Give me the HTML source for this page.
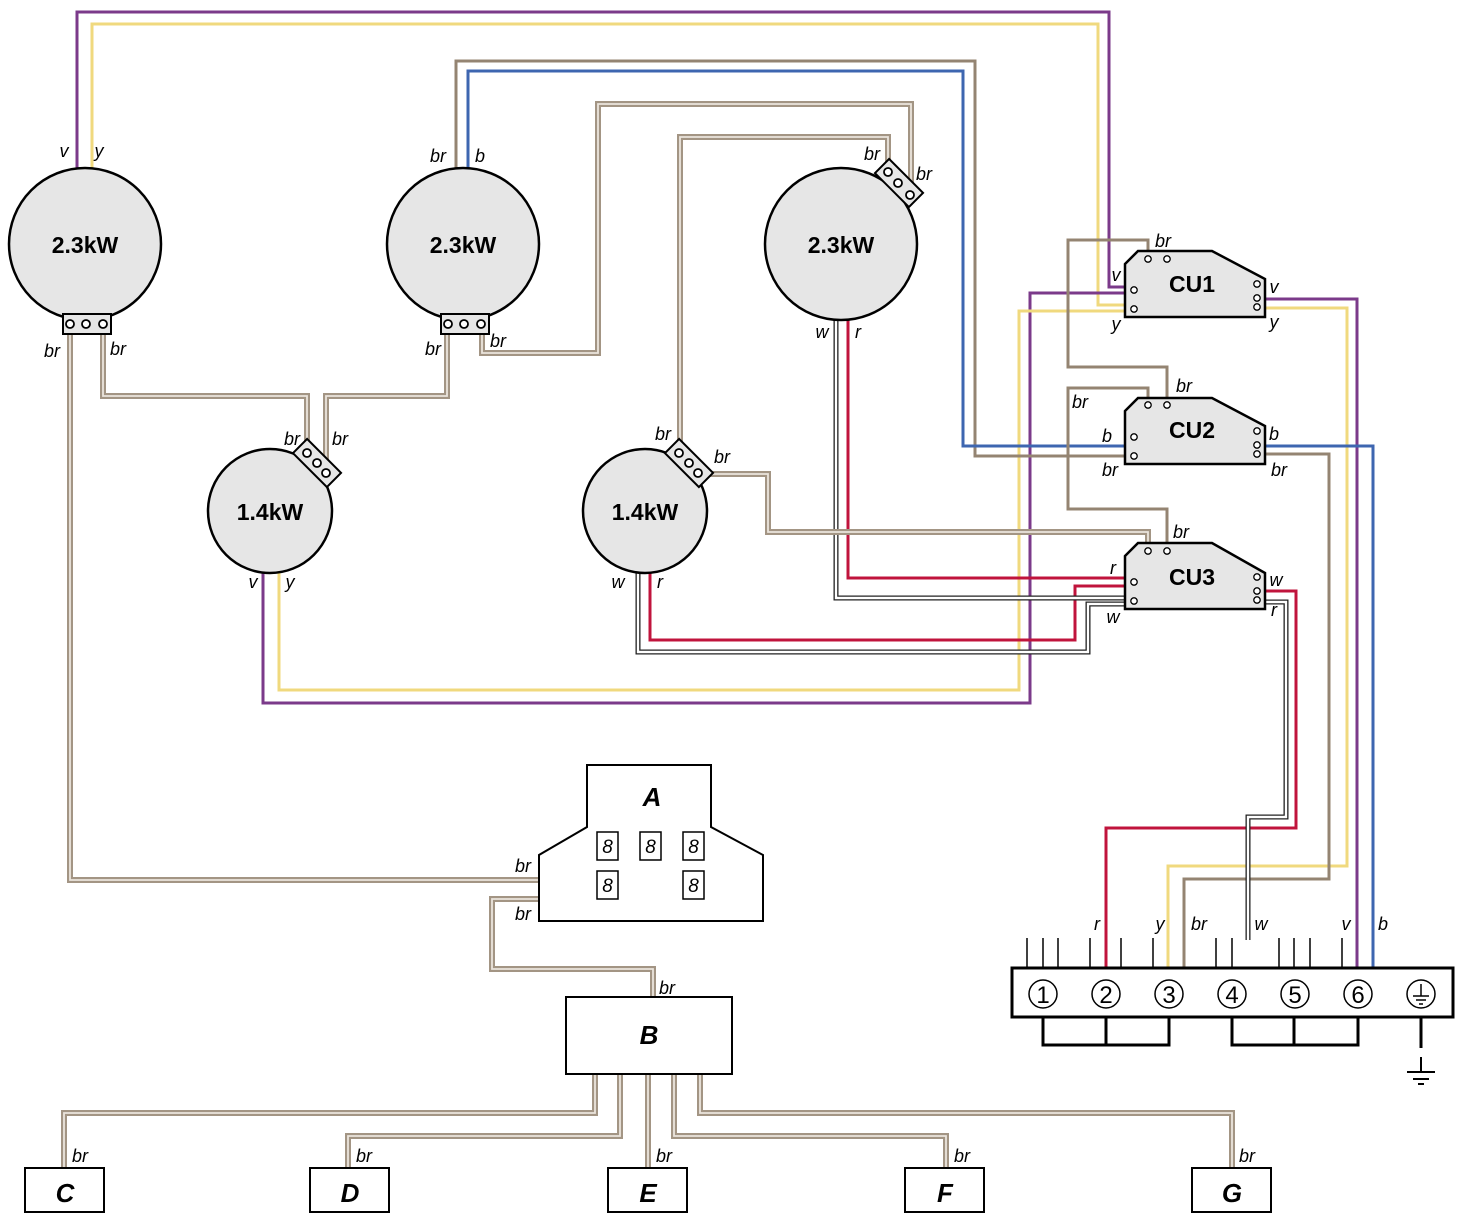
<!DOCTYPE html>
<html><head><meta charset="utf-8"><style>
html,body{margin:0;padding:0;background:#fff}
svg{display:block}
.l{font-family:"Liberation Sans",sans-serif;font-style:italic;font-size:18px;text-anchor:middle}
.n{font-family:"Liberation Sans",sans-serif;font-weight:bold;font-size:23px;text-anchor:middle}
.ni{font-family:"Liberation Sans",sans-serif;font-weight:bold;font-style:italic;font-size:26px;text-anchor:middle}
.cab{fill:none;stroke:#a39584;stroke-width:6}
.cabi{fill:none;stroke:#ebe5dd;stroke-width:1.8}
.wo{fill:none;stroke:#222;stroke-width:5}
.wi{fill:none;stroke:#fff;stroke-width:2.4}
.s{fill:none;stroke-width:3}
.tn{font-family:"Liberation Sans",sans-serif;font-size:24px;text-anchor:middle}
</style></head><body>
<svg width="1462" height="1226" viewBox="0 0 1462 1226" xmlns="http://www.w3.org/2000/svg">
<defs>
<g id="dig"><rect x="0" y="0" width="21" height="28" fill="#fff" stroke="#000" stroke-width="1.5"/><text x="10.5" y="21" font-family="Liberation Sans" font-style="italic" font-size="19" text-anchor="middle">8</text></g>
</defs>

<g class="s">
<path d="M77,168 V12 H1109 V287 H1125" stroke="#7b3a8a"/>
<path d="M92,168 V24 H1098 V305 H1125" stroke="#f0d97e"/>
<path d="M263,572 V703 H1030 V293 H1125" stroke="#7b3a8a"/>
<path d="M279,572 V690 H1019 V311 H1125" stroke="#f0d97e"/>
<path d="M1265,299 H1357 V968" stroke="#7b3a8a"/>
<path d="M1265,308 H1347 V866 H1168 V968" stroke="#f0d97e"/>
<path d="M456,168 V61 H975 V456 H1125" stroke="#948472"/>
<path d="M468,168 V71 H963 V446 H1125" stroke="#3e66b0"/>
<path d="M1265,446 H1373 V968" stroke="#3e66b0"/>
<path d="M1265,454 H1329 V879 H1184 V968" stroke="#948472"/>
<path d="M1148,259 V240 H1068 V367 H1167 V404" stroke="#948472"/>
<path d="M1148,404 V388 H1068 V509 H1167 V551" stroke="#948472"/>
<path d="M848,320 V578 H1125" stroke="#c0143c"/>
<path d="M650,572 V640 H1075 V586 H1125" stroke="#c0143c"/>
<path d="M1265,591 H1296 V828 H1106 V968" stroke="#c0143c"/>
</g>
<path class="wo" d="M836,320 V598 H1125"/><path class="wi" d="M836,320 V598 H1125"/>
<path class="wo" d="M638,572 V652 H1088 V604 H1125"/><path class="wi" d="M638,572 V652 H1088 V604 H1125"/>
<path class="wo" d="M1265,602 H1286 V817 H1248 V940"/><path class="wi" d="M1265,602 H1286 V817 H1248 V940"/>

<g>
<path class="cab" d="M70,330 V880 H540"/><path class="cabi" d="M70,330 V880 H540"/>
<path class="cab" d="M103,330 V396 H307 V453"/><path class="cabi" d="M103,330 V396 H307 V453"/>
<path class="cab" d="M447,330 V396 H326 V472"/><path class="cabi" d="M447,330 V396 H326 V472"/>
<path class="cab" d="M482,330 V353 H598 V104 H911 V195"/><path class="cabi" d="M482,330 V353 H598 V104 H911 V195"/>
<path class="cab" d="M680,453 V137 H888 V172"/><path class="cabi" d="M680,453 V137 H888 V172"/>
<path class="cab" d="M700,474 H768 V532 H1148 V551"/><path class="cabi" d="M700,474 H768 V532 H1148 V551"/>
<path class="cab" d="M540,899 H492 V969 H653 V997"/><path class="cabi" d="M540,899 H492 V969 H653 V997"/>
<path class="cab" d="M595,1074 V1113 H64 V1168"/><path class="cabi" d="M595,1074 V1113 H64 V1168"/>
<path class="cab" d="M620,1074 V1136 H348 V1168"/><path class="cabi" d="M620,1074 V1136 H348 V1168"/>
<path class="cab" d="M648,1074 V1168"/><path class="cabi" d="M648,1074 V1168"/>
<path class="cab" d="M674,1074 V1136 H946 V1168"/><path class="cabi" d="M674,1074 V1136 H946 V1168"/>
<path class="cab" d="M700,1074 V1113 H1232 V1168"/><path class="cabi" d="M700,1074 V1113 H1232 V1168"/>
</g>

<g fill="#e6e6e6" stroke="#000" stroke-width="2.5">
<circle cx="85" cy="244" r="76"/>
<circle cx="463" cy="244" r="76"/>
<circle cx="841" cy="244" r="76"/>
<circle cx="270" cy="511" r="62"/>
<circle cx="645" cy="511" r="62"/>
</g>
<g stroke="#000" stroke-width="2">
<rect x="63" y="314" width="48" height="20" fill="#e6e6e6"/>
<rect x="441" y="314" width="48" height="20" fill="#e6e6e6"/>
<rect x="-24" y="-10" width="48" height="20" fill="#e6e6e6" transform="translate(317,463) rotate(45)"/>
<rect x="-24" y="-10" width="48" height="20" fill="#e6e6e6" transform="translate(689,463) rotate(45)"/>
<rect x="-24" y="-10" width="48" height="20" fill="#e6e6e6" transform="translate(899,183) rotate(45)"/>
</g>
<g fill="#fff" stroke="#000" stroke-width="1.8">
<circle cx="70" cy="324" r="4"/><circle cx="86" cy="324" r="4"/><circle cx="103" cy="324" r="4"/>
<circle cx="448" cy="324" r="4"/><circle cx="464" cy="324" r="4"/><circle cx="481" cy="324" r="4"/>
<circle cx="307" cy="453" r="4"/><circle cx="317" cy="463" r="4"/><circle cx="326" cy="473" r="4"/>
<circle cx="679" cy="453" r="4"/><circle cx="689" cy="463" r="4"/><circle cx="698" cy="473" r="4"/>
<circle cx="888" cy="172" r="4"/><circle cx="898" cy="183" r="4"/><circle cx="910" cy="195" r="4"/>
</g>
<text class="n" x="85" y="253">2.3kW</text>
<text class="n" x="463" y="253">2.3kW</text>
<text class="n" x="841" y="253">2.3kW</text>
<text class="n" x="270" y="520">1.4kW</text>
<text class="n" x="645" y="520">1.4kW</text>

<g fill="#e6e6e6" stroke="#000" stroke-width="2.5">
<path d="M1125,264 L1138,251 H1212 L1265,279 V317 H1125 Z"/>
<path d="M1125,411 L1138,398 H1212 L1265,426 V464 H1125 Z"/>
<path d="M1125,556 L1138,543 H1212 L1265,573 V609 H1125 Z"/>
</g>
<g fill="#fff" stroke="#000" stroke-width="1.3">
<circle cx="1148" cy="259" r="3.2"/><circle cx="1167" cy="259" r="3.2"/><circle cx="1134" cy="290" r="3.2"/><circle cx="1134" cy="309" r="3.2"/><circle cx="1257" cy="284" r="3.2"/><circle cx="1257" cy="298" r="3.2"/><circle cx="1257" cy="307" r="3.2"/>
<circle cx="1148" cy="405" r="3.2"/><circle cx="1167" cy="405" r="3.2"/><circle cx="1134" cy="437" r="3.2"/><circle cx="1134" cy="456" r="3.2"/><circle cx="1257" cy="431" r="3.2"/><circle cx="1257" cy="445" r="3.2"/><circle cx="1257" cy="454" r="3.2"/>
<circle cx="1148" cy="551" r="3.2"/><circle cx="1167" cy="551" r="3.2"/><circle cx="1134" cy="582" r="3.2"/><circle cx="1134" cy="601" r="3.2"/><circle cx="1257" cy="577" r="3.2"/><circle cx="1257" cy="591" r="3.2"/><circle cx="1257" cy="600" r="3.2"/>
</g>
<text class="n" x="1192" y="292">CU1</text>
<text class="n" x="1192" y="438">CU2</text>
<text class="n" x="1192" y="585">CU3</text>

<path d="M587,765 H711 V827 L763,855 V921 H539 V855 L587,827 Z" fill="#fff" stroke="#000" stroke-width="2"/>
<text class="ni" x="652" y="806">A</text>
<use href="#dig" x="597" y="832"/><use href="#dig" x="640" y="832"/><use href="#dig" x="683" y="832"/>
<use href="#dig" x="597" y="871"/><use href="#dig" x="683" y="871"/>
<g fill="#fff" stroke="#000" stroke-width="2">
<rect x="566" y="997" width="166" height="77"/>
<rect x="25" y="1168" width="79" height="44"/>
<rect x="310" y="1168" width="79" height="44"/>
<rect x="608" y="1168" width="79" height="44"/>
<rect x="905" y="1168" width="79" height="44"/>
<rect x="1192" y="1168" width="79" height="44"/>
</g>
<text class="ni" x="649" y="1044">B</text>
<text class="ni" x="65" y="1202">C</text>
<text class="ni" x="350" y="1202">D</text>
<text class="ni" x="648" y="1202">E</text>
<text class="ni" x="945" y="1202">F</text>
<text class="ni" x="1232" y="1202">G</text>

<g stroke="#000" stroke-width="1.5">
<path d="M1027,938V969M1043,938V969M1058,938V969M1090,938V969M1121,938V969M1153,938V969M1216,938V969M1232,938V969M1279,938V969M1294,938V969M1310,938V969M1342,938V969"/>
</g>
<g stroke="#000" stroke-width="3" fill="none">
<rect x="1012" y="968" width="441" height="49" fill="#fff"/>
<path d="M1043,1017V1045H1169V1017M1106,1017V1045"/>
<path d="M1232,1017V1045H1358V1017M1294,1017V1045"/>
<path d="M1421,1017V1048"/>
<path d="M1421,1057V1072M1407,1072H1435M1413,1079H1429M1418,1084H1424" stroke-width="2"/>
</g>
<g fill="none" stroke="#000" stroke-width="1.5">
<circle cx="1043" cy="994" r="14"/><circle cx="1106" cy="994" r="14"/><circle cx="1169" cy="994" r="14"/><circle cx="1232" cy="994" r="14"/><circle cx="1295" cy="994" r="14"/><circle cx="1358" cy="994" r="14"/><circle cx="1421" cy="994" r="14"/>
</g>
<g class="tn">
<text x="1043" y="1003">1</text><text x="1106" y="1003">2</text><text x="1169" y="1003">3</text><text x="1232" y="1003">4</text><text x="1295" y="1003">5</text><text x="1358" y="1003">6</text>
</g>
<path d="M1421,984V996M1413,996H1429M1416,1000H1426M1419,1004H1423" stroke="#000" stroke-width="1.5"/>

<g class="l">
<text x="64" y="157">v</text><text x="99" y="157">y</text>
<text x="52" y="357">br</text><text x="118" y="355">br</text>
<text x="438" y="162">br</text><text x="480" y="162">b</text>
<text x="433" y="355">br</text><text x="498" y="347">br</text>
<text x="872" y="160">br</text><text x="924" y="180">br</text>
<text x="822" y="338">w</text><text x="858" y="338">r</text>
<text x="292" y="445">br</text><text x="340" y="445">br</text>
<text x="253" y="588">v</text><text x="290" y="588">y</text>
<text x="663" y="440">br</text><text x="722" y="463">br</text>
<text x="618" y="588">w</text><text x="660" y="588">r</text>
<text x="1163" y="247">br</text><text x="1116" y="281">v</text><text x="1116" y="330">y</text>
<text x="1274" y="293">v</text><text x="1274" y="328">y</text>
<text x="1184" y="392">br</text><text x="1080" y="408">br</text><text x="1107" y="442">b</text><text x="1110" y="476">br</text>
<text x="1274" y="440">b</text><text x="1279" y="476">br</text>
<text x="1181" y="538">br</text><text x="1113" y="574">r</text><text x="1113" y="623">w</text>
<text x="1276" y="586">w</text><text x="1274" y="616">r</text>
<text x="1097" y="930">r</text><text x="1160" y="930">y</text><text x="1199" y="930">br</text><text x="1261" y="930">w</text><text x="1346" y="930">v</text><text x="1383" y="930">b</text>
<text x="523" y="872">br</text><text x="523" y="920">br</text><text x="667" y="994">br</text>
<text x="80" y="1162">br</text><text x="364" y="1162">br</text><text x="664" y="1162">br</text><text x="962" y="1162">br</text><text x="1247" y="1162">br</text>
</g>
</svg>
</body></html>
